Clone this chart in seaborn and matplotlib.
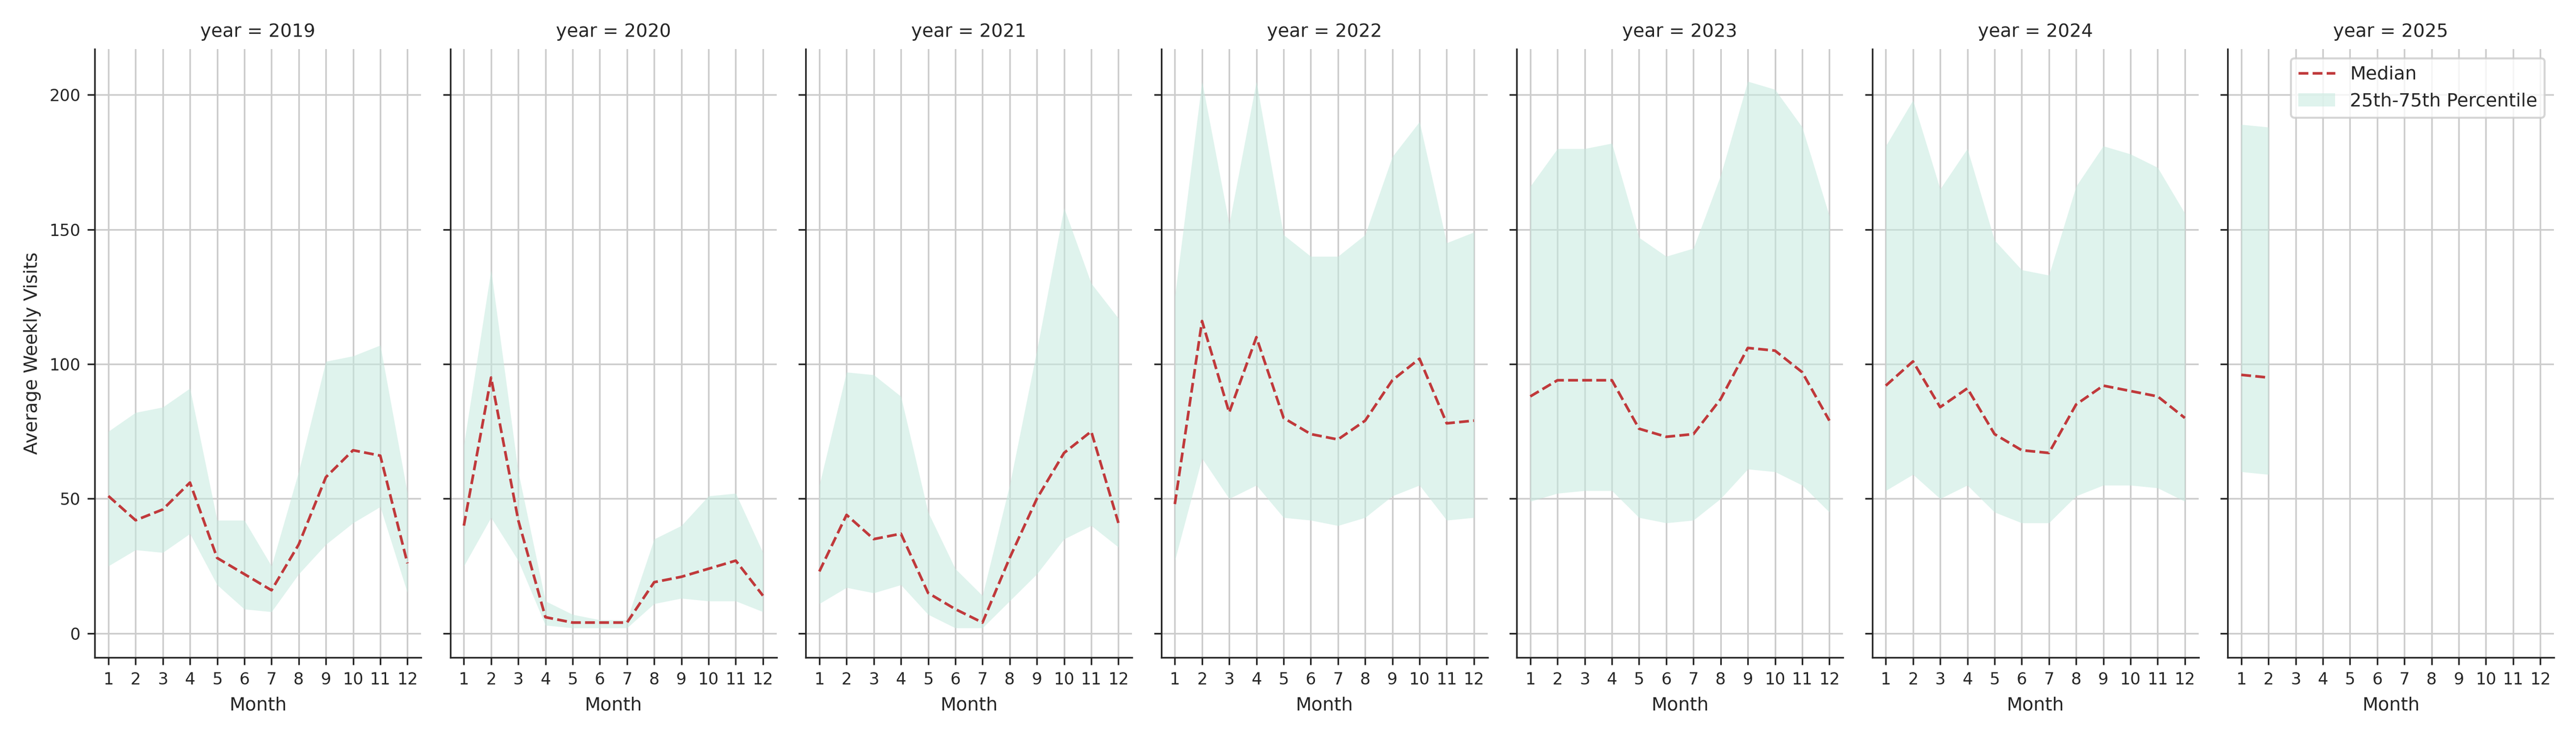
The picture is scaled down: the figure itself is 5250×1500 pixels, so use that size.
import matplotlib
matplotlib.use("Agg")
import matplotlib.pyplot as plt
import numpy as np
import pandas as pd
import seaborn as sns

years = [2019, 2020, 2021, 2022, 2023, 2024, 2025]
months = list(range(1, 13))

median = {
    2019: [51, 42, 46, 56, 28, 22, 16, 33, 58, 68, 66, 26],
    2020: [40, 95, 42, 6, 4, 4, 4, 19, 21, 24, 27, 14],
    2021: [23, 44, 35, 37, 15, 9, 4, 28, 50, 67, 75, 41],
    2022: [48, 116, 82, 110, 80, 74, 72, 79, 94, 102, 78, 79],
    2023: [88, 94, 94, 94, 76, 73, 74, 87, 106, 105, 97, 79],
    2024: [92, 101, 84, 91, 74, 68, 67, 85, 92, 90, 88, 80],
    2025: [96, 95],
}
q25 = {
    2019: [25, 31, 30, 37, 18, 9, 8, 22, 33, 41, 47, 15],
    2020: [25, 43, 27, 3, 2, 2, 2, 11, 13, 12, 12, 8],
    2021: [11, 17, 15, 18, 7, 2, 2, 12, 22, 35, 40, 32],
    2022: [27, 65, 50, 55, 43, 42, 40, 43, 51, 55, 42, 43],
    2023: [49, 52, 53, 53, 43, 41, 42, 50, 61, 60, 55, 45],
    2024: [53, 59, 50, 55, 45, 41, 41, 51, 55, 55, 54, 49],
    2025: [60, 59],
}
q75 = {
    2019: [75, 82, 84, 91, 42, 42, 25, 60, 101, 103, 107, 52],
    2020: [70, 135, 60, 12, 7, 5, 5, 35, 40, 51, 52, 30],
    2021: [55, 97, 96, 88, 45, 24, 14, 55, 105, 158, 130, 117],
    2022: [125, 205, 152, 205, 148, 140, 140, 148, 177, 190, 145, 149],
    2023: [166, 180, 180, 182, 147, 140, 143, 170, 205, 202, 188, 155],
    2024: [181, 198, 165, 180, 146, 135, 133, 166, 181, 178, 173, 156],
    2025: [189, 188],
}

rows = []
for y in years:
    for i, m in enumerate(median[y]):
        rows.append({"year": y, "Month": months[i], "median": m, "q25": q25[y][i], "q75": q75[y][i]})
df = pd.DataFrame(rows)

sns.set_style("ticks", {"axes.grid": True, "grid.color": "#cccccc"})

g = sns.FacetGrid(df, col="year", col_order=years, height=5, aspect=0.5, sharey=True, sharex=True)


def draw(data, **kws):
    ax = plt.gca()
    ax.fill_between(data["Month"], data["q25"], data["q75"], color="#c6eadf", alpha=0.55,
                    linewidth=0, label="25th-75th Percentile")
    sns.lineplot(data=data, x="Month", y="median", ax=ax, color="#c0393b", linestyle="--",
                 linewidth=1.3, label="Median")


g.map_dataframe(draw)
g.set_titles("year = {col_name}", size=9)
g.set_axis_labels("Month", "Average Weekly Visits", fontsize=9)
for ax in g.axes.flat:
    ax.set_xticks(months)
    ax.set_xlim(0.5, 12.5)
    ax.set_yticks([0, 50, 100, 150, 200])
    ax.tick_params(labelsize=8)
    if ax.get_legend():
        ax.get_legend().remove()
g.axes.flat[0].set_ylim(-9, 217)
h, l = g.axes.flat[-1].get_legend_handles_labels()
order = [l.index("Median"), l.index("25th-75th Percentile")]
g.axes.flat[-1].legend([h[i] for i in order], [l[i] for i in order], loc="upper right", fontsize=9)
g.figure.set_size_inches(17.5, 5)
g.figure.tight_layout()
g.figure.savefig("out.png", dpi=300)
